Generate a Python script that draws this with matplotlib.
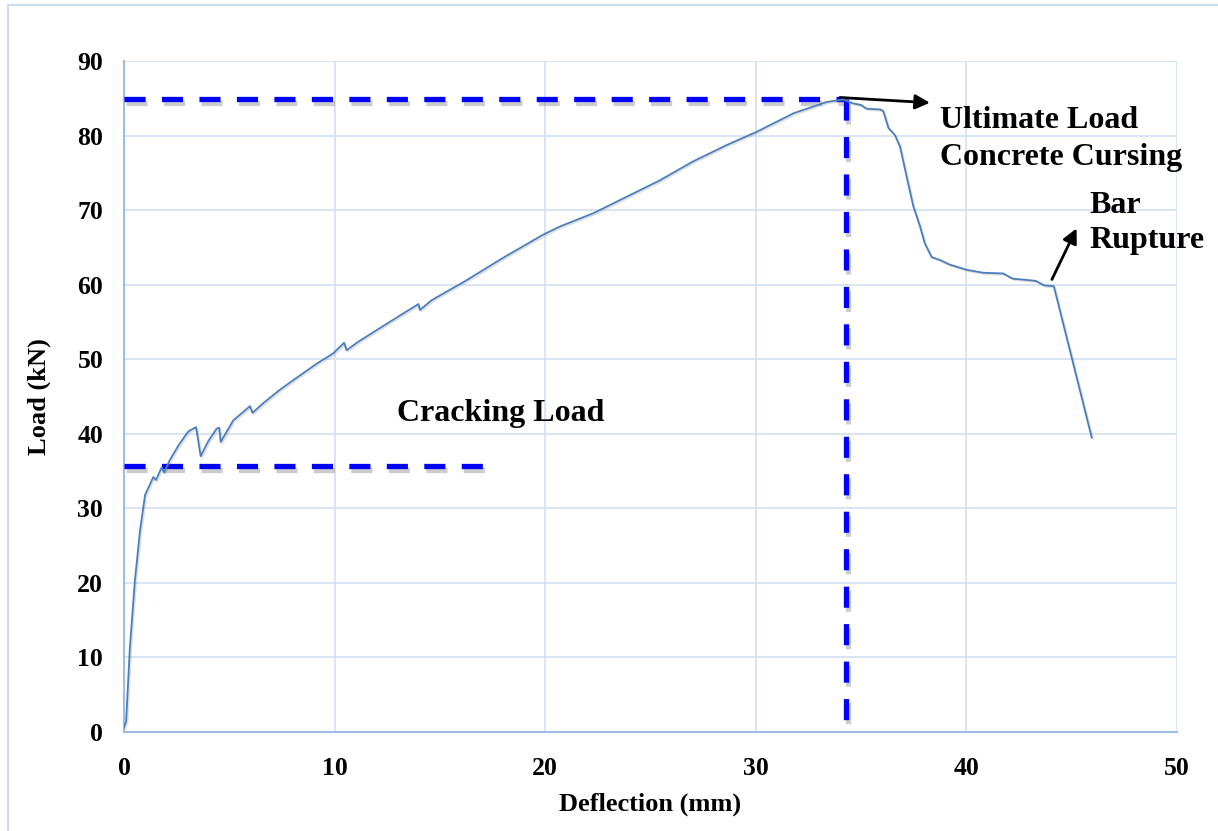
import matplotlib
matplotlib.use("Agg")
import matplotlib.pyplot as plt
import matplotlib.patheffects as pe
from matplotlib.patches import Rectangle

# ---- data ----
deflection = [0, 0.1, 0.28, 0.52, 0.76, 1.0, 1.2, 1.39, 1.52, 1.79, 1.9, 2.18, 2.6, 3.05,
              3.42, 3.64, 4.0, 4.4, 4.52, 4.59, 5.19, 5.98, 6.1, 6.61, 7.4, 8.04, 9.15,
              9.94, 10.45, 10.57, 11.1, 12.5, 13.98, 14.05, 14.6, 16.27, 18.0, 19.9, 20.7,
              22.3, 23.55, 25.45, 27.0, 28.6, 30.04, 31.8, 33.37, 34.16, 34.63, 35.0,
              35.26, 35.9, 36.05, 36.3, 36.6, 36.85, 37.16, 37.48, 37.8, 38.03, 38.35,
              38.75, 39.2, 40.0, 40.8, 41.75, 42.2, 43.0, 43.3, 43.7, 44.15, 45.95]
load = [0.6, 1.4, 11.4, 20.4, 27.0, 31.8, 33.0, 34.2, 33.8, 35.5, 34.8, 36.5, 38.5, 40.3,
        40.9, 37.0, 39.0, 40.7, 40.8, 38.9, 41.8, 43.7, 42.8, 44.1, 45.9, 47.2, 49.4,
        50.8, 52.2, 51.2, 52.3, 54.8, 57.4, 56.6, 57.9, 60.6, 63.6, 66.7, 67.8,
        69.6, 71.35, 74.0, 76.5, 78.7, 80.5, 83.0, 84.5, 84.85, 84.3, 84.1,
        83.6, 83.5, 83.3, 81.0, 80.1, 78.5, 74.5, 70.5, 67.8, 65.5, 63.7,
        63.3, 62.7, 62.0, 61.6, 61.5, 60.8, 60.6, 60.5, 59.9, 59.8, 39.5]

ultimate_load = 84.9
ultimate_defl = 34.3
cracking_load = 35.7
cracking_line_end = 17.4

x_ticks = [0, 10, 20, 30, 40, 50]
y_ticks = [0, 10, 20, 30, 40, 50, 60, 70, 80, 90]

# ---- figure ----
plt.rcParams['font.family'] = ['Liberation Serif', 'DejaVu Serif']
plt.rcParams['font.weight'] = 'bold'

fig = plt.figure(figsize=(12.18, 8.31), dpi=100)
ax = fig.add_axes([124/1218, 1-732/831, (1177-124)/1218, (732-61)/831])

# outer chart-area border
fig.patches.append(Rectangle((8/1218, -0.05), 1.2, 1-5/831+0.05, transform=fig.transFigure,
                             fill=False, edgecolor='#cddcf0', linewidth=1.5, zorder=0))

grid_c = '#d5e2f3'
ax.set_xlim(0, 50)
ax.set_ylim(0, 90)
ax.set_xticks(x_ticks)
ax.set_yticks(y_ticks)
ax.grid(True, color=grid_c, linewidth=1.3)
ax.set_axisbelow(True)
for s in ['top', 'right']:
    ax.spines[s].set_visible(False)
for s in ['left', 'bottom']:
    ax.spines[s].set_color('#9dbde6')
    ax.spines[s].set_linewidth(1.5)
ax.tick_params(length=0, labelsize=18.5)
ax.tick_params(axis='y', pad=15)
ax.tick_params(axis='x', pad=18)
for lab in ax.get_xticklabels() + ax.get_yticklabels():
    lab.set_fontweight('bold')

ax.set_xlabel('Deflection (mm)', fontsize=19, fontweight='bold', labelpad=9)
ax.set_ylabel('Load (kN)', fontsize=19, fontweight='bold', labelpad=19)

# main curve
ax.plot(deflection, load, color='#4a7ebb', linewidth=1.3, zorder=4,
        path_effects=[pe.SimpleLineShadow(offset=(1, -1), shadow_color='gray', alpha=0.25), pe.Normal()])

# dashed guide lines
shadow = [pe.SimpleLineShadow(offset=(1.5, -3), shadow_color='gray', alpha=0.4), pe.Normal()]
dash_kw = dict(color='#0000ff', linewidth=3.8, linestyle=(0, (4.0, 3.1)), solid_capstyle='butt',
               dash_capstyle='butt', path_effects=shadow, clip_on=False, zorder=3)
ax.plot([0, ultimate_defl], [ultimate_load, ultimate_load], **dash_kw)
ax.plot([ultimate_defl, ultimate_defl], [ultimate_load, 0], **dash_kw)
ax.plot([0, cracking_line_end], [cracking_load, cracking_load], **dash_kw)

# annotations
txt_kw = dict(fontsize=23, fontweight='bold', color='black', ha='left', va='baseline')
ax.text(38.75, 80.97, 'Ultimate Load', **txt_kw)
ax.text(38.75, 76.05, 'Concrete Cursing', **txt_kw)
ax.text(45.83, 69.65, 'Bar', **txt_kw)
ax.text(45.83, 64.9, 'Rupture', **txt_kw)
ax.text(12.96, 41.78, 'Cracking Load', **txt_kw)

arrow_kw = dict(arrowstyle='-|>', color='black', lw=2, mutation_scale=22, shrinkA=0, shrinkB=0)
ax.annotate('', xy=(38.27, 84.4), xytext=(34.0, 85.1), arrowprops=arrow_kw, annotation_clip=False)
ax.annotate('', xy=(45.23, 67.55), xytext=(44.06, 60.7), arrowprops=arrow_kw, annotation_clip=False)

fig.savefig('out.png', dpi=100)
